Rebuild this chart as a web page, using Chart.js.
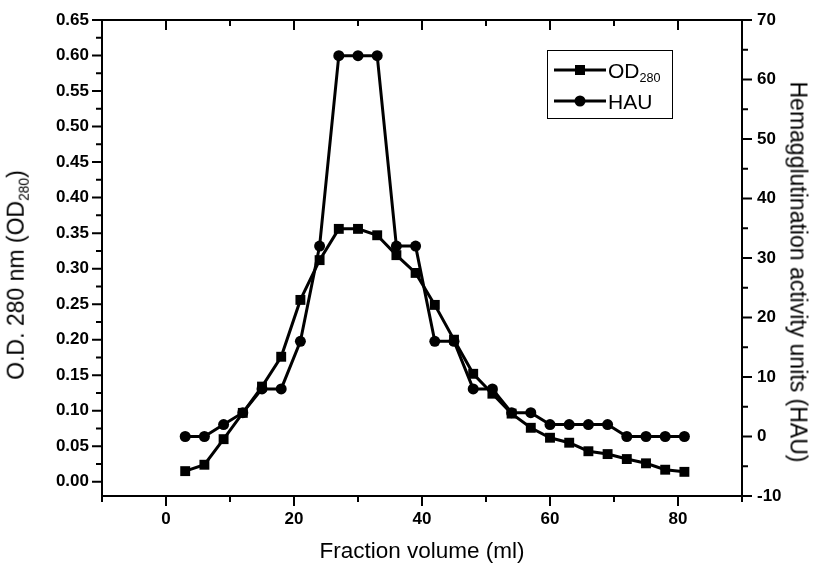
<!DOCTYPE html>
<html>
<head>
<meta charset="utf-8">
<script src="https://cdn.jsdelivr.net/npm/chart.js@4.4.1/dist/chart.umd.min.js"></script>
<style>
  body { margin: 0; background: #fff; }
  #wrap { position: relative; width: 816px; height: 569px; font-family: "Liberation Sans", Arial, sans-serif; color: #000; }
  canvas { position: absolute; left: 0; top: 0; }
  .title { position: absolute; font-size: 23px; white-space: nowrap; line-height: 1; }
  .title sub, .legend sub { font-size: 60%; vertical-align: -0.35em; }
  #xTitle { left: 422px; top: 540px; font-size: 22.5px; transform: translateX(-50%); }
  #yTitle { left: 18px; top: 275px; transform: translate(-50%, -50%) rotate(-90deg); }
  #y2Title { left: 798px; top: 272px; transform: translate(-50%, -50%) rotate(90deg); }
  .legend { position: absolute; left: 547px; top: 50px; width: 126px; height: 69px; border: 1px solid #000; box-sizing: border-box; font-size: 21px; }
  .legend .row { position: absolute; left: 60px; line-height: 1; }
</style>
</head>
<body>
<div id="wrap">
  <canvas id="chart" width="816" height="569"></canvas>
  <div class="title" id="xTitle">Fraction volume (ml)</div>
  <div class="title" id="yTitle">O.D. 280 nm (OD<sub>280</sub>)</div>
  <div class="title" id="y2Title">Hemagglutination activity units (HAU)</div>
  <div class="legend">
    <canvas id="legendMarks" width="60" height="67"></canvas>
    <div class="row" style="top: 9px;">OD<sub>280</sub></div>
    <div class="row" style="top: 40px;">HAU</div>
  </div>
</div>
<script>
// fraction volume (ml)
const fractionVolume = [3, 6, 9, 12, 15, 18, 21, 24, 27, 30, 33, 36, 39, 42, 45, 48, 51, 54, 57, 60, 63, 66, 69, 72, 75, 78, 81];
// absorbance at 280 nm
const od280 = [0.015, 0.024, 0.060, 0.097, 0.134, 0.176, 0.256, 0.312, 0.356, 0.356, 0.347, 0.319, 0.294, 0.249, 0.200, 0.152, 0.124, 0.096, 0.076, 0.062, 0.055, 0.043, 0.039, 0.032, 0.026, 0.017, 0.014];
// hemagglutination activity units
const hau = [0, 0, 2, 4, 8, 8, 16, 32, 64, 64, 64, 32, 32, 16, 16, 8, 8, 4, 4, 2, 2, 2, 2, 0, 0, 0, 0];

const xTicks = { min: -10, max: 90, major: 20, minor: 10 };
const yTicks = { min: -0.02, max: 0.65, major: 0.05, minor: 0.025 };
const y2Ticks = { min: -10, max: 70, major: 10, minor: 5 };

const tickFont = { family: "'Liberation Sans', Arial, sans-serif", size: 17, weight: "bold" };

function isMajor(v, step) {
  const r = v / step;
  return Math.abs(r - Math.round(r)) < 1e-6;
}

function tickValues(t) {
  const out = [];
  const start = Math.ceil(t.min / t.minor - 1e-6);
  for (let k = start; k * t.minor <= t.max + 1e-9; k++) out.push(Math.round(k * t.minor * 1e6) / 1e6);
  return out;
}

// frame + major/minor tick marks
const framePlugin = {
  id: "frame",
  afterDraw(chart) {
    const ctx = chart.ctx;
    const a = chart.chartArea;
    ctx.save();
    ctx.strokeStyle = "#000";
    ctx.lineWidth = 2;
    ctx.strokeRect(a.left, a.top, a.right - a.left, a.bottom - a.top);
    ctx.beginPath();
    tickValues(xTicks).forEach((v) => {
      const px = chart.scales.x.getPixelForValue(v);
      const len = isMajor(v, xTicks.major) ? 10 : 6;
      ctx.moveTo(px, a.bottom); ctx.lineTo(px, a.bottom + len);
      ctx.moveTo(px, a.top); ctx.lineTo(px, a.top + len);
    });
    tickValues(yTicks).forEach((v) => {
      const py = chart.scales.y.getPixelForValue(v);
      const len = isMajor(v, yTicks.major) ? 10 : 6;
      ctx.moveTo(a.left, py); ctx.lineTo(a.left - len, py);
    });
    tickValues(y2Ticks).forEach((v) => {
      const py = chart.scales.y2.getPixelForValue(v);
      const len = isMajor(v, y2Ticks.major) ? 10 : 6;
      ctx.moveTo(a.right, py); ctx.lineTo(a.right + len, py);
    });
    ctx.stroke();
    ctx.restore();
  },
};

function fixedTicks(t) {
  return (scale) => {
    scale.ticks = tickValues(t).map((v) => ({ value: v }));
  };
}

new Chart(document.getElementById("chart"), {
  type: "line",
  data: {
    datasets: [
      {
        label: "OD280",
        data: fractionVolume.map((x, i) => ({ x: x, y: od280[i] })),
        yAxisID: "y",
        borderColor: "#000",
        backgroundColor: "#000",
        borderWidth: 3,
        pointStyle: "rect",
        pointRadius: 7,
        pointBorderWidth: 0,
        tension: 0,
      },
      {
        label: "HAU",
        data: fractionVolume.map((x, i) => ({ x: x, y: hau[i] })),
        yAxisID: "y2",
        borderColor: "#000",
        backgroundColor: "#000",
        borderWidth: 3,
        pointStyle: "circle",
        pointRadius: 5.5,
        pointBorderWidth: 0,
        tension: 0,
      },
    ],
  },
  options: {
    responsive: false,
    animation: false,
    layout: { padding: { top: 20, left: 0, right: 0, bottom: 0 } },
    plugins: { legend: { display: false }, tooltip: { enabled: false } },
    scales: {
      x: {
        type: "linear",
        position: "bottom",
        min: xTicks.min,
        max: xTicks.max,
        grid: { display: false },
        border: { display: false },
        afterBuildTicks: fixedTicks(xTicks),
        ticks: {
          color: "#000",
          font: tickFont,
          padding: 5,
          maxRotation: 0,
          autoSkip: false,
          callback: (v) => (isMajor(v, xTicks.major) ? String(v) : ""),
        },
        afterFit: (s) => { s.height = 73; },
      },
      y: {
        position: "left",
        min: yTicks.min,
        max: yTicks.max,
        grid: { display: false },
        border: { display: false },
        afterBuildTicks: fixedTicks(yTicks),
        ticks: {
          color: "#000",
          font: tickFont,
          padding: 5,
          autoSkip: false,
          callback: (v) => (isMajor(v, yTicks.major) ? v.toFixed(2) : ""),
        },
        afterFit: (s) => { s.width = 102; },
      },
      y2: {
        position: "right",
        min: y2Ticks.min,
        max: y2Ticks.max,
        grid: { display: false },
        border: { display: false },
        afterBuildTicks: fixedTicks(y2Ticks),
        ticks: {
          color: "#000",
          font: tickFont,
          padding: 7,
          autoSkip: false,
          callback: (v) => (isMajor(v, y2Ticks.major) ? String(v) : ""),
        },
        afterFit: (s) => { s.width = 74; },
      },
    },
  },
  plugins: [framePlugin],
});

// legend symbols
const lc = document.getElementById("legendMarks").getContext("2d");
lc.strokeStyle = "#000";
lc.fillStyle = "#000";
lc.lineWidth = 3;
[[19, "rect"], [50, "circle"]].forEach(([y, style]) => {
  lc.beginPath(); lc.moveTo(6, y); lc.lineTo(58, y); lc.stroke();
  lc.beginPath();
  if (style === "rect") lc.rect(27, y - 5, 10, 10);
  else lc.arc(32, y, 5.5, 0, Math.PI * 2);
  lc.fill();
});
</script>
</body>
</html>
